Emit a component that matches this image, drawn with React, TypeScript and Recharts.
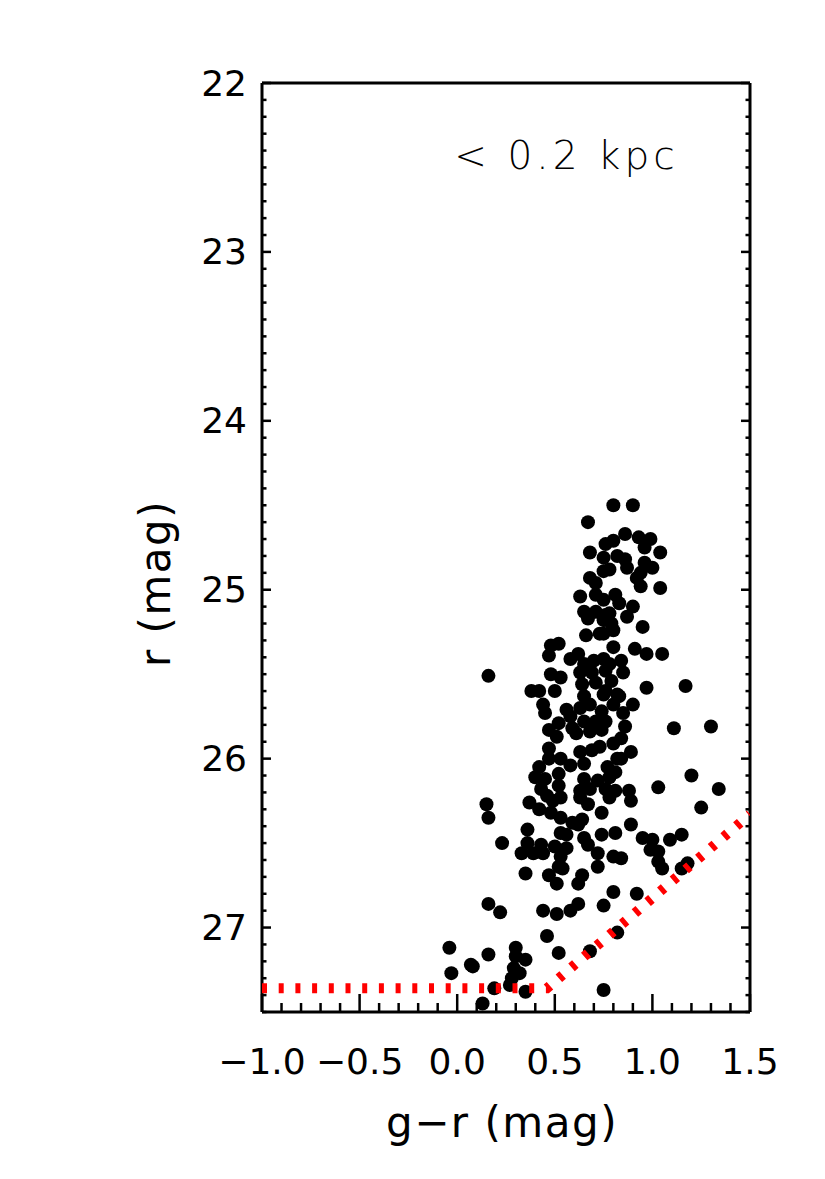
import React from 'react';
import { ScatterChart, Scatter, XAxis, YAxis, ReferenceDot } from 'recharts';

// colour-magnitude diagram, stars within 0.2 kpc
const xMajor = [-1.0, -0.5, 0.0, 0.5, 1.0, 1.5];
const yMajor = [22, 23, 24, 25, 26, 27];

// [g-r, r]
const starsUpper: [number, number][] = [
  [0.80, 24.50], [0.90, 24.50], [0.67, 24.60], [0.80, 24.71], [0.86, 24.67], [0.93, 24.69], [0.99, 24.70],
  [0.96, 24.75], [1.04, 24.78], [0.76, 24.73], [0.75, 24.81], [0.82, 24.80], [0.86, 24.82], [0.87, 24.87],
  [0.96, 24.84], [1.00, 24.87], [0.78, 24.88], [0.75, 24.89], [0.94, 24.90], [0.92, 24.93], [0.94, 24.98],
  [1.04, 24.99], [0.81, 25.03], [0.75, 25.06], [0.83, 25.08], [0.90, 25.10], [0.78, 25.14], [0.87, 25.16],
  [0.75, 25.18], [0.95, 25.22], [0.80, 25.24], [0.75, 25.26], [0.91, 25.35], [0.80, 25.34], [0.97, 25.38],
  [1.05, 25.38], [0.68, 24.78], [0.68, 24.93], [0.71, 24.96], [0.63, 25.04], [0.71, 25.03], [0.65, 25.13],
  [0.67, 25.17], [0.71, 25.13], [0.76, 25.15], [0.79, 25.20], [0.66, 25.27], [0.73, 25.26], [0.48, 25.33],
  [0.52, 25.32],
];

const starsMiddle: [number, number][] = [
  [0.84, 25.42], [0.78, 25.44], [0.85, 25.49], [0.79, 25.54], [0.97, 25.58], [1.17, 25.57], [0.76, 25.60],
  [0.47, 25.39], [0.58, 25.41], [0.62, 25.38], [0.65, 25.44], [0.70, 25.42], [0.75, 25.41], [0.63, 25.49],
  [0.69, 25.49], [0.76, 25.48], [0.48, 25.50], [0.53, 25.52], [0.16, 25.51], [0.64, 25.56], [0.71, 25.55],
  [0.38, 25.60], [0.42, 25.60], [0.50, 25.60], [0.65, 25.63], [0.75, 25.62], [0.82, 25.62], [0.44, 25.68],
  [0.45, 25.73], [0.56, 25.71], [0.63, 25.70], [0.68, 25.68], [0.74, 25.72], [0.58, 25.75], [0.65, 25.78],
  [0.71, 25.78], [0.76, 25.78], [0.52, 25.79], [0.47, 25.83], [0.59, 25.82], [0.68, 25.84], [0.74, 25.83],
  [0.51, 25.87], [0.61, 25.85], [0.80, 25.91], [0.47, 25.94], [0.63, 25.96], [0.69, 25.95], [0.73, 25.93],
  [0.47, 26.00], [0.53, 26.00], [0.58, 26.04], [0.65, 26.03], [0.42, 26.05], [0.77, 26.05], [0.82, 26.00],
  [0.40, 26.11], [0.45, 26.12], [0.52, 26.09], [0.65, 26.12], [0.72, 26.13], [0.78, 26.11], [0.52, 26.16],
  [0.43, 26.18], [0.63, 26.19], [0.68, 26.18], [0.76, 26.18], [0.46, 26.22], [0.53, 26.23], [0.63, 26.23],
  [0.78, 26.23], [0.81, 26.19], [0.37, 26.26], [0.49, 26.25], [0.67, 26.27], [0.15, 26.27],
  [0.83, 25.63], [0.90, 25.68], [0.80, 25.68], [0.85, 25.73], [1.11, 25.82], [1.30, 25.81], [0.86, 25.81],
  [0.84, 25.88], [0.89, 25.96], [0.84, 26.00], [0.81, 26.08], [1.20, 26.10], [0.88, 26.19], [1.03, 26.17],
  [1.34, 26.18], [0.89, 26.25], [1.25, 26.29],
];

const starsLower: [number, number][] = [
  [0.16, 26.35], [0.42, 26.30], [0.48, 26.32], [0.53, 26.35], [0.64, 26.36], [0.74, 26.32], [0.59, 26.38],
  [0.62, 26.39], [0.81, 26.44], [0.74, 26.45], [0.36, 26.42], [0.53, 26.44], [0.56, 26.45], [0.23, 26.50],
  [0.36, 26.50], [0.43, 26.51], [0.33, 26.56], [0.39, 26.56], [0.50, 26.52], [0.56, 26.53], [0.65, 26.47],
  [0.67, 26.51], [0.44, 26.56], [0.53, 26.58], [0.72, 26.56], [0.80, 26.58], [0.52, 26.64], [0.72, 26.64],
  [0.35, 26.68], [0.47, 26.69], [0.64, 26.69],
  [0.89, 26.39], [0.95, 26.47], [1.00, 26.48], [1.09, 26.48], [1.15, 26.45], [0.84, 26.59], [0.99, 26.54],
  [1.03, 26.55], [1.18, 26.62], [1.15, 26.65], [1.03, 26.61], [1.05, 26.65],
  [0.51, 26.74], [0.54, 26.65], [0.62, 26.74], [0.80, 26.79], [0.92, 26.80],
  [0.16, 26.86], [0.22, 26.91], [0.44, 26.90], [0.51, 26.92], [0.58, 26.90], [0.62, 26.86], [0.75, 26.87],
  [0.46, 27.05], [0.82, 27.03],
  [-0.04, 27.12], [0.16, 27.16], [0.30, 27.12], [0.35, 27.19], [0.30, 27.17], [0.52, 27.15], [0.68, 27.14],
  [0.07, 27.22], [0.08, 27.23], [-0.03, 27.27], [0.29, 27.24], [0.32, 27.27], [0.28, 27.30], [0.27, 27.34],
  [0.19, 27.36], [0.35, 27.38], [0.75, 27.37], [0.13, 27.45],
];

// completeness limit (red dotted)
const limitGr = [-1.0, 0.46, 1.5];
const limitR = [27.36, 27.36, 26.33];

const stars = [...starsUpper, ...starsMiddle, ...starsLower].map(([gr, r]) => ({ gr, r }));
const limit = limitGr.map((gr, i) => ({ gr, r: limitR[i] }));

// minor ticks: x every 0.1, y every 0.1
const subdivide = (major: number[], n: number) => {
  const out: number[] = [];
  for (let i = 0; i < major.length; i++) {
    out.push(major[i]);
    if (i < major.length - 1) {
      const step = (major[i + 1] - major[i]) / n;
      for (let k = 1; k < n; k++) out.push(+(major[i] + k * step).toFixed(3));
    }
  }
  return out;
};
const xTicks = subdivide(xMajor, 5);
const yTicks = [...subdivide(yMajor, 10), 27.1, 27.2, 27.3, 27.4, 27.5];

const FONT = '"DejaVu Sans", sans-serif';
const isMajor = (v: number, list: number[]) => list.some((m) => Math.abs(m - v) < 1e-6);
const fmtX = (v: number) => v.toFixed(1).replace('-', '\u2212');

const renderXTick = (isTop: boolean) => (props: any) => {
  const x = Number(props.x);
  const y = Number(props.y);
  const v = props.payload.value;
  const major = isMajor(v, xMajor);
  const len = major ? 18 : 9;
  const y2 = isTop ? y + len : y - len;
  return (
    <g key={`xt-${isTop ? 't' : 'b'}-${v}`}>
      <path d={`M${x},${y}L${x},${y2}`} stroke="#000" strokeWidth={2.5} fill="none" />
      {major && !isTop && (
        <text x={x} y={y + 49} textAnchor="middle" dominantBaseline="central" fontFamily={FONT} fontSize={36} fill="#000">
          {fmtX(v)}
        </text>
      )}
    </g>
  );
};

const renderYTick = (isRight: boolean) => (props: any) => {
  const x = Number(props.x);
  const y = Number(props.y);
  const v = props.payload.value;
  const major = isMajor(v, yMajor);
  const len = major ? 9 : 4.5;
  const x2 = isRight ? x - len : x + len;
  return (
    <g key={`yt-${isRight ? 'r' : 'l'}-${v}`}>
      <path d={`M${x},${y}L${x2},${y}`} stroke="#000" strokeWidth={2.5} fill="none" />
      {major && !isRight && (
        <text x={x - 15} y={y} textAnchor="end" dominantBaseline="central" fontFamily={FONT} fontSize={36} fill="#000">
          {v}
        </text>
      )}
    </g>
  );
};

const Dot = (p: any) => <circle cx={p.cx} cy={p.cy} r={7} fill="#000" />;

const App: React.FC = () => {
  const axisLine = { stroke: '#000', strokeWidth: 3 };
  return (
    <ScatterChart width={817} height={1163} margin={{ top: 55, right: 55, bottom: 99, left: 194 }}>
      <XAxis
        xAxisId="b" type="number" dataKey="gr" domain={[-1, 1.5]} ticks={xTicks} interval={0}
        tickSize={0} tickMargin={0} tickLine={false} tick={renderXTick(false)} axisLine={axisLine}
        height={60} allowDataOverflow
        label={{
          content: (p: any) => (
            <text x={p.viewBox.x + p.viewBox.width / 2 - 4} y={p.viewBox.y + 110} textAnchor="middle"
              dominantBaseline="central" fontFamily={FONT} fontSize={42} letterSpacing={1.5} fill="#000">g−r (mag)</text>
          ),
        }}
      />
      <XAxis
        xAxisId="t" orientation="top" type="number" domain={[-1, 1.5]} ticks={xTicks} interval={0}
        tickSize={0} tickMargin={0} tickLine={false} tick={renderXTick(true)} axisLine={axisLine}
        height={20} allowDataOverflow
      />
      <YAxis
        yAxisId="l" type="number" dataKey="r" domain={[22, 27.5]} reversed ticks={yTicks} interval={0}
        tickSize={0} tickMargin={0} tickLine={false} tick={renderYTick(false)} axisLine={axisLine}
        width={60} allowDataOverflow
        label={{
          content: (p: any) => {
            const cx = p.viewBox.x + p.viewBox.width - 107;
            const cy = p.viewBox.y + p.viewBox.height / 2 + 36;
            return (
              <text x={cx} y={cy} transform={`rotate(-90 ${cx} ${cy})`} textAnchor="middle"
                dominantBaseline="central" fontFamily={FONT} fontSize={42} letterSpacing={1.5} fill="#000">r (mag)</text>
            );
          },
        }}
      />
      <YAxis
        yAxisId="rt" orientation="right" type="number" domain={[22, 27.5]} reversed ticks={yTicks} interval={0}
        tickSize={0} tickMargin={0} tickLine={false} tick={renderYTick(true)} axisLine={axisLine}
        width={20} allowDataOverflow
      />
      <Scatter data={stars} xAxisId="b" yAxisId="l" fill="#000" shape={Dot} isAnimationActive={false} />
      <Scatter
        data={limit} xAxisId="b" yAxisId="l" fill="#ff0000" shape={() => <g />} lineType="joint"
        line={{ stroke: '#ff0000', strokeWidth: 10, strokeDasharray: '5 11.7' }} isAnimationActive={false}
      />
      <ReferenceDot
        xAxisId="b" yAxisId="l" x={0.56} y={22.43} r={0} fill="none" stroke="none"
        label={{ value: '< 0.2 kpc', position: 'center', fontFamily: FONT, fontSize: 39, fontWeight: 200, fill: '#000', letterSpacing: 4 }}
      />
    </ScatterChart>
  );
};

export default App;
